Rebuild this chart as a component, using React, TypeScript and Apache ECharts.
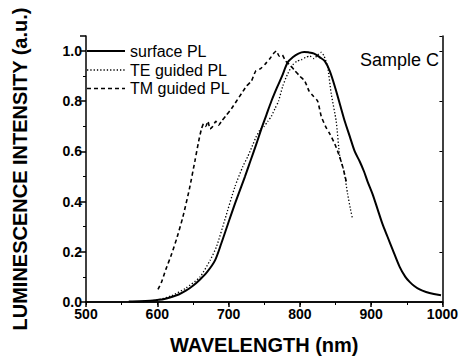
import React, { useEffect, useRef } from "react";
import * as echarts from "echarts";

const seriesNames = ["surface PL", "TE guided PL", "TM guided PL"];

const surfaceWl = [560, 575, 590, 600, 610, 620, 630, 640, 650, 660, 670, 681, 690, 699, 710, 723, 731, 739, 746, 753, 760, 768, 775, 783, 790, 798, 806, 812, 820, 828, 835, 842, 850, 857, 863, 870, 877, 884, 890, 895, 902, 909, 916, 923, 930, 940, 948, 954, 960, 968, 977, 988, 998];
const surfaceInt = [0.002, 0.003, 0.005, 0.008, 0.012, 0.02, 0.03, 0.045, 0.065, 0.09, 0.12, 0.166, 0.235, 0.31, 0.4, 0.5, 0.565, 0.63, 0.69, 0.745, 0.8, 0.855, 0.9, 0.955, 0.975, 0.99, 0.996, 0.995, 0.99, 0.975, 0.96, 0.92, 0.85, 0.78, 0.72, 0.66, 0.6, 0.56, 0.52, 0.48, 0.43, 0.37, 0.31, 0.26, 0.21, 0.14, 0.1, 0.08, 0.065, 0.05, 0.04, 0.032, 0.027];

const teWl = [580, 600, 620, 640, 660, 674, 683, 695, 709, 720, 727, 733, 739, 745, 750, 755, 760, 765, 770, 776, 783, 790, 796, 802, 808, 814, 820, 825, 830, 834, 839, 844, 851, 856, 862, 867, 871, 874];
const teInt = [0.002, 0.008, 0.025, 0.055, 0.1, 0.166, 0.22, 0.33, 0.46, 0.54, 0.58, 0.62, 0.66, 0.69, 0.7, 0.72, 0.74, 0.77, 0.8, 0.86, 0.91, 0.945, 0.96, 0.965, 0.975, 0.98, 0.97, 0.985, 0.995, 0.98, 0.936, 0.83, 0.72, 0.58, 0.52, 0.43, 0.37, 0.33];

const tmWl = [601, 606, 612, 620, 628, 636, 645, 653, 658, 662, 665, 668, 671, 674, 678, 682, 686, 690, 697, 704, 711, 718, 725, 732, 738, 745, 752, 758, 763, 767, 771, 775, 780, 786, 792, 800, 807, 813, 819, 825, 830, 836, 842, 849, 855, 860, 866];
const tmInt = [0.05, 0.08, 0.13, 0.19, 0.26, 0.34, 0.45, 0.565, 0.64, 0.69, 0.71, 0.7, 0.72, 0.69, 0.7, 0.72, 0.705, 0.72, 0.745, 0.77, 0.8, 0.83, 0.86, 0.88, 0.92, 0.93, 0.95, 0.97, 0.99, 1.0, 0.98, 0.985, 0.96, 0.945, 0.925, 0.9, 0.88, 0.84, 0.82, 0.8, 0.74, 0.7, 0.67, 0.63, 0.585, 0.54, 0.47];

const xTicks = [500, 600, 700, 800, 900, 1000];
const yTicks = [0, 0.2, 0.4, 0.6, 0.8, 1.0];

const zip = (xs: number[], ys: number[]) => xs.map((x, i) => [x, ys[i]]);

const FONT = "Liberation Sans, Arial, sans-serif";

const lineTypes: any[] = ["solid", [1.3, 2], [4, 3]];
const lineWidths = [2, 1.3, 1.6];

export default function App() {
  const ref = useRef<HTMLDivElement>(null);
  useEffect(() => {
    if (!ref.current) return;
    const chart = echarts.init(ref.current, null, { renderer: "svg" });
    const axisLine = { show: true, lineStyle: { color: "#000", width: 1.5 } };
    const legendRows = [51, 70, 88.5];
    const legendGraphics: any[] = [];
    seriesNames.forEach((n, i) => {
      legendGraphics.push({
        type: "line",
        shape: { x1: 87, y1: legendRows[i], x2: 125, y2: legendRows[i] },
        style: {
          stroke: "#000",
          lineWidth: lineWidths[i],
          lineDash: lineTypes[i] === "solid" ? null : lineTypes[i],
        },
        z: 10,
      });
      legendGraphics.push({
        type: "text",
        x: 130,
        y: legendRows[i],
        style: { text: n, font: `16px ${FONT}`, fill: "#000", textVerticalAlign: "middle", verticalAlign: "middle" },
        z: 10,
      });
    });
    chart.setOption({
      animation: false,
      backgroundColor: "#fff",
      grid: { left: 86, right: 18, top: 36, bottom: 60 },
      graphic: [
        ...legendGraphics,
        {
          type: "text",
          right: 22,
          top: 51,
          style: { text: "Sample C", font: `18px ${FONT}`, fill: "#000" },
        },
      ],
      xAxis: [
        {
          type: "value",
          min: xTicks[0],
          max: xTicks[xTicks.length - 1],
          interval: 100,
          name: "WAVELENGTH (nm)",
          nameLocation: "middle",
          nameGap: 33,
          nameTextStyle: { fontFamily: FONT, fontSize: 20, fontWeight: "bold", color: "#000" },
          axisLine,
          axisTick: { show: true, inside: false, length: 5, lineStyle: { color: "#000", width: 1.5 } },
          minorTick: { show: true, splitNumber: 2, length: 3, lineStyle: { color: "#000", width: 1 } },
          axisLabel: {
            fontFamily: FONT,
            fontSize: 14,
            fontWeight: "bold",
            color: "#000",
            margin: 5,
            formatter: (v: number) => String(v),
          },
          splitLine: { show: false },
        },
        {
          type: "value",
          position: "top",
          min: xTicks[0],
          max: xTicks[xTicks.length - 1],
          interval: 100,
          axisLine,
          axisTick: { show: true, inside: true, length: 3, lineStyle: { color: "#000" } },
          axisLabel: { show: false },
          splitLine: { show: false },
        },
      ],
      yAxis: [
        {
          type: "value",
          min: 0,
          max: 1.06,
          interval: 0.2,
          name: "LUMINESCENCE INTENSITY (a.u.)",
          nameLocation: "middle",
          nameGap: 56,
          nameTextStyle: { fontFamily: FONT, fontSize: 20, fontWeight: "bold", color: "#000" },
          axisLine,
          axisTick: { show: true, inside: false, length: 6, lineStyle: { color: "#000", width: 1.5 } },
          minorTick: { show: true, splitNumber: 2, length: 3, lineStyle: { color: "#000", width: 1 } },
          axisLabel: {
            fontFamily: FONT,
            fontSize: 14,
            fontWeight: "bold",
            color: "#000",
            margin: 4,
            showMaxLabel: false,
            formatter: (v: number) => (yTicks.some((t) => Math.abs(t - v) < 1e-6) ? v.toFixed(1) : ""),
          },
          splitLine: { show: false },
        },
        {
          type: "value",
          position: "right",
          min: 0,
          max: 1.06,
          interval: 0.2,
          axisLine,
          axisTick: { show: true, inside: true, length: 3, lineStyle: { color: "#000" } },
          axisLabel: { show: false },
          splitLine: { show: false },
        },
      ],
      series: [
        {
          name: seriesNames[0],
          type: "line",
          data: zip(surfaceWl, surfaceInt),
          symbol: "none",
          smooth: 0.3,
          lineStyle: { color: "#000", width: lineWidths[0], type: lineTypes[0] },
        },
        {
          name: seriesNames[1],
          type: "line",
          data: zip(teWl, teInt),
          symbol: "none",
          smooth: 0.2,
          lineStyle: { color: "#000", width: lineWidths[1], type: lineTypes[1] },
        },
        {
          name: seriesNames[2],
          type: "line",
          data: zip(tmWl, tmInt),
          symbol: "none",
          smooth: 0.2,
          lineStyle: { color: "#000", width: lineWidths[2], type: lineTypes[2] },
        },
      ],
    });
    return () => chart.dispose();
  }, []);
  return <div ref={ref} style={{ width: 461, height: 362, position: "absolute", left: 0, top: 0 }} />;
}
